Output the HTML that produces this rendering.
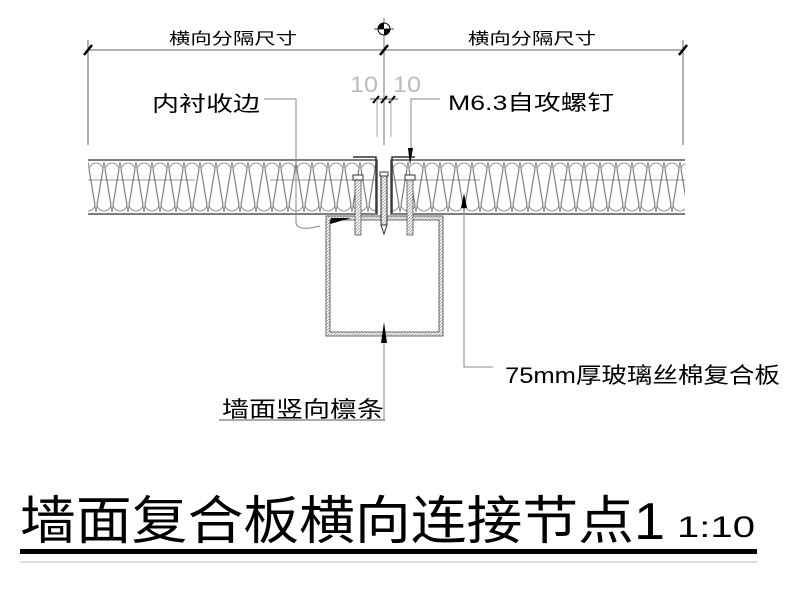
<!DOCTYPE html>
<html><head><meta charset="utf-8"><style>
html,body{margin:0;padding:0;background:#fff;width:800px;height:600px;overflow:hidden}
text{font-family:"Liberation Sans","Noto Sans CJK SC",sans-serif}
</style></head><body>
<svg width="800" height="600" viewBox="0 0 800 600" xmlns="http://www.w3.org/2000/svg">
<defs>
<pattern id="ins" patternUnits="userSpaceOnUse" x="88" y="0" width="16" height="600">
<path d="M8,212 L1,170 A7,7 0 0 1 15,170 Z" fill="none" stroke="#777" stroke-width="0.8"/>
<path d="M0,162 L-7,204 A7,7 0 0 0 7,204 Z M16,162 L9,204 A7,7 0 0 0 23,204 Z" fill="none" stroke="#777" stroke-width="0.8"/>
</pattern>
<pattern id="hat" patternUnits="userSpaceOnUse" width="3" height="3">
<rect width="3" height="3" fill="#fff"/><path d="M0,3 L3,0" stroke="#888" stroke-width="0.7"/>
</pattern>
</defs>
<!-- dimension line -->
<line x1="88" y1="50" x2="685" y2="50" stroke="#666" stroke-width="1"/>
<line x1="88" y1="40" x2="88" y2="145" stroke="#666"/>
<line x1="683" y1="40" x2="683" y2="145" stroke="#666"/>
<line x1="384" y1="18" x2="384" y2="145" stroke="#777"/>
<path d="M84,55 L92,45 M380,55 L388,45 M679,55 L687,45" stroke="#000" stroke-width="2.5"/>
<text x="233" y="44" font-size="16" text-anchor="middle" textLength="128" lengthAdjust="spacingAndGlyphs">横向分隔尺寸</text>
<text x="532" y="44" font-size="16" text-anchor="middle" textLength="128" lengthAdjust="spacingAndGlyphs">横向分隔尺寸</text>
<!-- axis symbol -->
<circle cx="384" cy="29" r="6" fill="#fff" stroke="#000"/>
<path d="M384,29 L384,23 A6,6 0 0 0 378,29 Z M384,29 L384,35 A6,6 0 0 0 390,29 Z" fill="#000"/>
<line x1="374" y1="29" x2="394" y2="29" stroke="#000" stroke-width="0.8"/>
<!-- 10 10 -->
<text x="350" y="92" font-size="22" fill="#bbb" textLength="28" lengthAdjust="spacingAndGlyphs">10</text>
<text x="393" y="92" font-size="22" fill="#bbb" textLength="28" lengthAdjust="spacingAndGlyphs">10</text>
<line x1="370" y1="99" x2="398" y2="99" stroke="#555"/>
<path d="M373,103 L379,96 M381,103 L387,96 M389,103 L395,96" stroke="#000" stroke-width="2"/>
<line x1="377" y1="99" x2="377" y2="137" stroke="#aaa"/>
<line x1="391" y1="99" x2="391" y2="137" stroke="#aaa"/>
<!-- panels -->
<rect x="88" y="162" width="289" height="51" fill="url(#ins)"/>
<rect x="391" y="162" width="294" height="51" fill="url(#ins)"/>
<path d="M88,160 H377 V214 H88 M685,160 H391 V214 H685" fill="none" stroke="#555" stroke-width="1.6"/>
<path d="M88,180 H195 M270,180 H377 M391,180 H480 M560,180 H685" stroke="#777" stroke-width="0.8"/>
<!-- flashing -->
<path d="M353,157 H376 V213 M415,157 H392 V213" fill="none" stroke="#333" stroke-width="1.5"/>
<!-- purlin tube -->
<rect x="326" y="216" width="117" height="120" fill="url(#hat)" stroke="#666"/>
<rect x="330" y="220" width="109" height="112" fill="#fff" stroke="#666"/>
<!-- screws -->
<rect x="381" y="175" width="6" height="50" fill="url(#hat)" stroke="#333"/>
<path d="M381,225 L384,234 L387,225" fill="none" stroke="#333"/>
<rect x="380" y="172" width="8" height="4" fill="#fff" stroke="#333"/>
<rect x="355" y="180" width="6" height="55" fill="url(#hat)" stroke="#555" stroke-width="0.8"/>
<rect x="353" y="175" width="10" height="5" fill="#fff" stroke="#333"/>
<rect x="407" y="180" width="6" height="55" fill="url(#hat)" stroke="#555" stroke-width="0.8"/>
<rect x="405" y="175" width="10" height="5" fill="#fff" stroke="#333"/>
<!-- leaders -->
<text x="152" y="111" font-size="21" textLength="108" lengthAdjust="spacingAndGlyphs">内衬收边</text>
<path d="M264,99 H296 V222 Q296,232 320,226" fill="none" stroke="#888"/>
<path d="M351,218 L330,224 L331,218 Z" fill="#000"/>
<text x="448" y="110" font-size="21" textLength="166" lengthAdjust="spacingAndGlyphs">M6.3自攻螺钉</text>
<path d="M440,99 H411 V148" fill="none" stroke="#888"/>
<path d="M408,148 L413,148 L410,165 Z" fill="#000"/>
<path d="M464,195 V367 H493" fill="none" stroke="#888"/>
<path d="M461,208 L467,208 L464,193 Z" fill="#000"/>
<text x="505" y="383" font-size="22" textLength="275" lengthAdjust="spacingAndGlyphs">75mm厚玻璃丝棉复合板</text>
<line x1="384" y1="420" x2="384" y2="335" stroke="#888"/>
<path d="M381,343 L387,343 L384,322 Z" fill="#000"/>
<text x="222" y="417" font-size="22" textLength="162" lengthAdjust="spacingAndGlyphs">墙面竖向檩条</text>
<line x1="219" y1="420" x2="385" y2="420" stroke="#555"/>
<!-- title -->
<text x="20" y="539" font-size="52" textLength="645" lengthAdjust="spacingAndGlyphs">墙面复合板横向连接节点1</text>
<text x="677" y="537" font-size="30" textLength="78" lengthAdjust="spacingAndGlyphs">1:10</text>
<rect x="20" y="549" width="737" height="5" fill="#000"/>
<line x1="20" y1="562" x2="757" y2="562" stroke="#bbb" stroke-width="1"/>
</svg>
</body></html>
